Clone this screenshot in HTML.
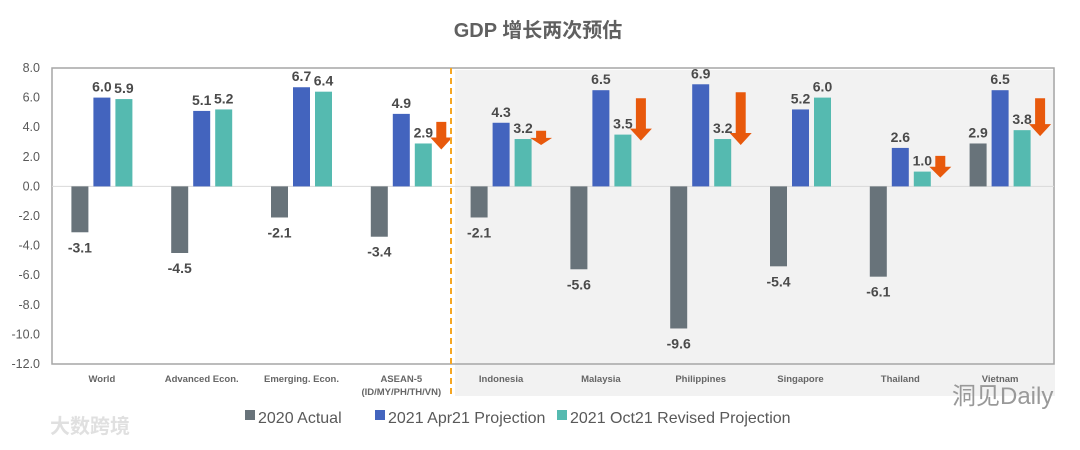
<!DOCTYPE html>
<html><head><meta charset="utf-8"><style>
body{margin:0;background:#fff;}
svg text{font-family:"Liberation Sans","Noto Sans CJK SC",sans-serif;}
</style></head><body>
<svg width="1080" height="445" viewBox="0 0 1080 445">
<text x="538" y="37" text-anchor="middle" font-size="20" font-weight="bold" fill="#606060">GDP 增长两次预估</text>
<g id="plot"></g>
</svg>
<script>
const categories=["World","Advanced Econ.","Emerging. Econ.","ASEAN-5","Indonesia","Malaysia","Philippines","Singapore","Thailand","Vietnam"];
const actual2020=[-3.1,-4.5,-2.1,-3.4,-2.1,-5.6,-9.6,-5.4,-6.1,2.9];
const apr2021=[6.0,5.1,6.7,4.9,4.3,6.5,6.9,5.2,2.6,6.5];
const oct2021=[5.9,5.2,6.4,2.9,3.2,3.5,3.2,6.0,1.0,3.8];
const arrowCats=[3,4,5,6,8,9];
const yTicks=[8,6,4,2,0,-2,-4,-6,-8,-10,-12];
const NS="http://www.w3.org/2000/svg";
const g=document.getElementById('plot');
const X0=52,X1=1050,YT=68,YB=364,VMAX=8,VMIN=-12;
const y=v=>YT+(VMAX-v)*(YB-YT)/(VMAX-VMIN);
const gw=(X1-X0)/categories.length;
const cx=i=>X0+gw*(i+0.5);
function el(t,a,p){const e=document.createElementNS(NS,t);for(const k in a)e.setAttribute(k,a[k]);(p||g).appendChild(e);return e;}
let r=el('rect',{x:455,y:70,width:600,height:326,fill:'#f2f2f2'});


let fr=el('rect',{x:X0,y:YT,width:X1-X0+4,height:YB-YT,fill:'none',stroke:'#a6a6a6','stroke-width':1.5});


let zl=el('line',{x1:X0,x2:X1+4,y1:y(0),y2:y(0),stroke:'#d9d9d9','stroke-width':1});


yTicks.forEach(t=>{const tx=el('text',{x:40,y:y(t)+4,'text-anchor':'end','font-size':12.5,fill:'#595959'});tx.textContent=t.toFixed(1);

});
const series=[[actual2020,'#68737a',-22],[apr2021,'#4364be',0],[oct2021,'#55bab0',22]];
categories.forEach((c,i)=>{
 series.forEach(([arr,col,off])=>{
  const v=arr[i],bx=cx(i)+off-8.5;
  const b=el('rect',{x:bx,y:Math.min(y(v),y(0)),width:17,height:Math.abs(y(v)-y(0)),fill:col});
  
  
  const lt=el('text',{x:cx(i)+off,y:v>=0?y(v)-6:y(v)+20,'text-anchor':'middle','font-size':14,'font-weight':'bold',fill:'#4a4a4a'});
  lt.textContent=v.toFixed(1);
  
  
 });
 const ct=el('text',{x:cx(i),y:382,'text-anchor':'middle','font-size':9.5,'font-weight':'bold',fill:'#666'});
 ct.textContent=c;
 
 
});
const sub=el('text',{x:cx(3),y:395,'text-anchor':'middle','font-size':9.5,'font-weight':'bold',fill:'#666'});
sub.textContent="(ID/MY/PH/TH/VN)";


arrowCats.forEach(i=>{
 const ax=cx(i)+40,t=y(apr2021[i])+8,bt=y(oct2021[i])+6;
 const h=Math.min(12,(bt-t)*0.5);
 const a=el('polygon',{points:`${ax-5},${t} ${ax+5},${t} ${ax+5},${bt-h} ${ax+11},${bt-h} ${ax},${bt} ${ax-11},${bt-h} ${ax-5},${bt-h}`,fill:'#e8590c'});
 
 
});
let dl=el('line',{x1:451,x2:451,y1:68,y2:396,stroke:'#f5a623','stroke-width':2,'stroke-dasharray':'6,4'});


const leg=[["2020 Actual",'#68737a',245],["2021 Apr21 Projection",'#4364be',375],["2021 Oct21 Revised Projection",'#55bab0',557]];
leg.forEach(([t,c,x])=>{
 const s=el('rect',{x:x,y:410,width:10,height:10,fill:c});
 
 
 const tx=el('text',{x:x+13,y:423,'font-size':16,fill:'#595959'});tx.textContent=t;
 
 
});
const w1=el('text',{x:952,y:404,'font-size':24,fill:'#999'});w1.textContent="洞见Daily";


const w2=el('text',{x:50,y:433,'font-size':20,fill:'#e0e0e0','font-weight':'bold'});w2.textContent="大数跨境";


</script>
</body></html>
